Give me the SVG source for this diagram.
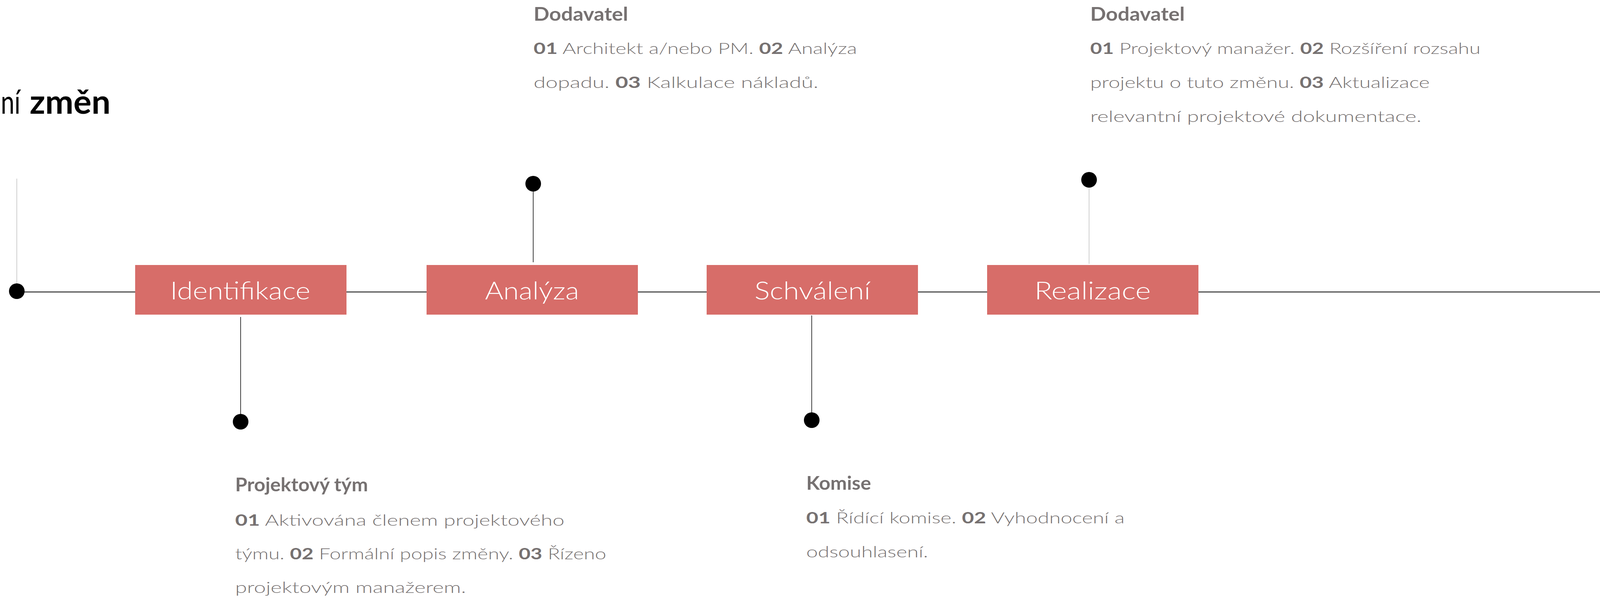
<svg xmlns="http://www.w3.org/2000/svg" width="4523" height="1530" viewBox="0 0 4523 1530">
<style>
.box{fill:#D76D69}
.lbl{font-family:Lato,"Liberation Sans",sans-serif;font-weight:300;font-size:64px;fill:#FFFFFF;text-anchor:middle}
.hd{font-family:Lato,"Liberation Sans",sans-serif;font-weight:700;font-size:47px;fill:#767171}
.bd{font-family:Lato,"Liberation Sans",sans-serif;font-weight:300;font-size:40px;fill:#767171}
.b{font-weight:700}
.dot{fill:#000000}
.stem{stroke:#000000;stroke-width:1.5;fill:none}
.stem-l{stroke:#BFBFBF;stroke-width:1.5;fill:none}
.axis{stroke:#4D4D4D;stroke-width:3;fill:none}
.title{font-family:Lato,"Liberation Sans",sans-serif;font-size:86px;fill:#000000}
</style>
<rect width="4523" height="1530" fill="#FFFFFF"/>
<g id="title">
<text class="title" x="2" y="291" font-weight="400" textLength="50" lengthAdjust="spacingAndGlyphs">ní</text>
<text class="title" x="76" y="291" font-weight="700" textLength="207" lengthAdjust="spacingAndGlyphs">změn</text>
</g>
<g id="connectors">
<line class="axis" x1="43" y1="747" x2="4503" y2="747"/>
<line class="stem-l" x1="43" y1="457" x2="43" y2="725"/>
<line class="stem" x1="616" y1="811" x2="616" y2="1060"/>
<line class="stem" x1="1365" y1="488" x2="1365" y2="671"/>
<line class="stem" x1="2078" y1="807" x2="2078" y2="1056"/>
<line class="stem-l" x1="2788" y1="478" x2="2788" y2="675"/>
<circle class="dot" cx="43" cy="745" r="20"/>
<circle class="dot" cx="616" cy="1079" r="20"/>
<circle class="dot" cx="1365" cy="470" r="20"/>
<circle class="dot" cx="2078" cy="1075" r="20"/>
<circle class="dot" cx="2788" cy="460" r="20"/>
</g>
<g id="node-identifikace">
<rect class="box" x="346" y="678" width="541" height="127"/>
<text class="lbl" x="615" y="766" textLength="359" lengthAdjust="spacingAndGlyphs">Identifikace</text>
</g>
<g id="node-analyza">
<rect class="box" x="1092" y="678" width="541" height="127"/>
<text class="lbl" x="1362" y="766" textLength="241" lengthAdjust="spacingAndGlyphs">Analýza</text>
</g>
<g id="node-schvaleni">
<rect class="box" x="1809" y="678" width="541" height="127"/>
<text class="lbl" x="2080" y="766" textLength="297" lengthAdjust="spacingAndGlyphs">Schválení</text>
</g>
<g id="node-realizace">
<rect class="box" x="2527" y="678" width="541" height="127"/>
<text class="lbl" x="2797" y="766" textLength="298" lengthAdjust="spacingAndGlyphs">Realizace</text>
</g>
<g id="note-analyza">
<text class="hd" x="1366" y="53" textLength="242" lengthAdjust="spacingAndGlyphs">Dodavatel</text>
<text class="bd" x="1366" y="138" textLength="828" lengthAdjust="spacingAndGlyphs"><tspan class="b">01</tspan> Architekt a/nebo PM. <tspan class="b">02</tspan> Analýza</text>
<text class="bd" x="1366" y="225" textLength="729" lengthAdjust="spacingAndGlyphs">dopadu. <tspan class="b">03</tspan> Kalkulace nákladů.</text>
</g>
<g id="note-realizace">
<text class="hd" x="2791" y="53" textLength="242" lengthAdjust="spacingAndGlyphs">Dodavatel</text>
<text class="bd" x="2791" y="138" textLength="999" lengthAdjust="spacingAndGlyphs"><tspan class="b">01</tspan> Projektový manažer. <tspan class="b">02</tspan> Rozšíření rozsahu</text>
<text class="bd" x="2791" y="225" textLength="869" lengthAdjust="spacingAndGlyphs">projektu o tuto změnu. <tspan class="b">03</tspan> Aktualizace</text>
<text class="bd" x="2791" y="312" textLength="848" lengthAdjust="spacingAndGlyphs">relevantní projektové dokumentace.</text>
</g>
<g id="note-identifikace">
<text class="hd" x="602" y="1257" textLength="340" lengthAdjust="spacingAndGlyphs">Projektový tým</text>
<text class="bd" x="602" y="1345" textLength="843" lengthAdjust="spacingAndGlyphs"><tspan class="b">01</tspan> Aktivována členem projektového</text>
<text class="bd" x="602" y="1431" textLength="950" lengthAdjust="spacingAndGlyphs">týmu. <tspan class="b">02</tspan> Formální popis změny. <tspan class="b">03</tspan> Řízeno</text>
<text class="bd" x="602" y="1517" textLength="591" lengthAdjust="spacingAndGlyphs">projektovým manažerem.</text>
</g>
<g id="note-schvaleni">
<text class="hd" x="2064" y="1253" textLength="166" lengthAdjust="spacingAndGlyphs">Komise</text>
<text class="bd" x="2064" y="1339" textLength="815" lengthAdjust="spacingAndGlyphs"><tspan class="b">01</tspan> Řídící komise. <tspan class="b">02</tspan> Vyhodnocení a</text>
<text class="bd" x="2064" y="1426" textLength="312" lengthAdjust="spacingAndGlyphs">odsouhlasení.</text>
</g>
</svg>
